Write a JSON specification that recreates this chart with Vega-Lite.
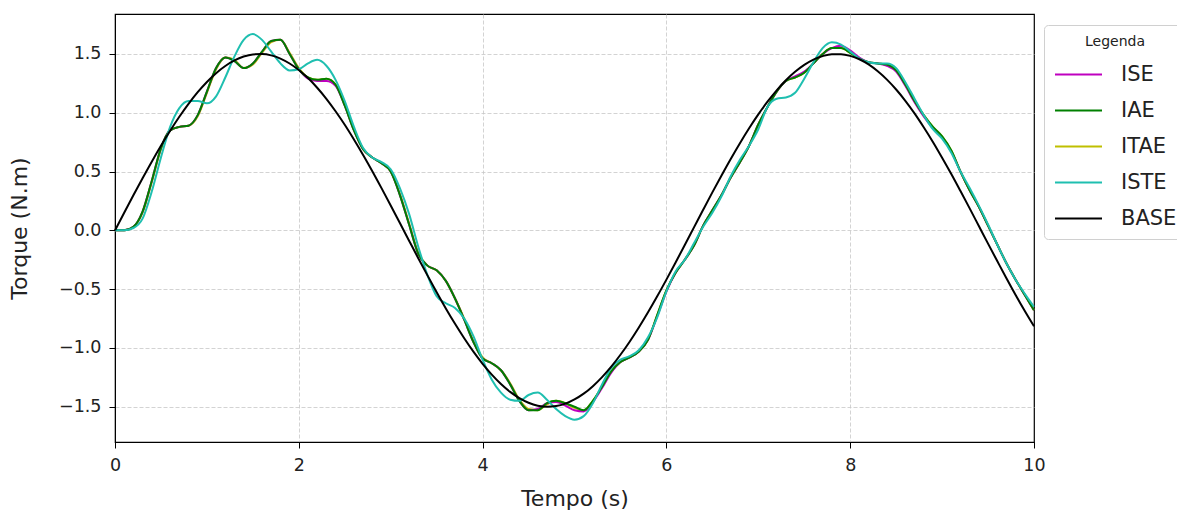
{
  "$schema": "https://vega.github.io/schema/vega-lite/v6.json",
  "width": 919,
  "height": 428,
  "autosize": {"type": "none"},
  "padding": {"left": 115, "top": 14, "right": 143, "bottom": 68},
  "background": "white",
  "config": {
    "font": "DejaVu Sans",
    "view": {"stroke": "black", "strokeWidth": 1.2},
    "axis": {
      "domainColor": "black",
      "tickColor": "black",
      "labelColor": "#222222",
      "titleColor": "#222222",
      "labelFont": "DejaVu Sans",
      "titleFont": "DejaVu Sans",
      "labelFontSize": 17.5,
      "titleFontSize": 22,
      "titleFontWeight": "normal",
      "tickSize": 6,
      "gridColor": "#c8c8c8",
      "gridDash": [4, 2],
      "gridWidth": 0.8,
      "labelFlush": false
    }
  },
  "data": {
    "values": [
      {"t":0.0,"ISE":0.0,"IAE":0.0,"ITAE":0.0,"ISTE":0.0,"BASE":0.0},
      {"t":0.1,"ISE":0.0,"IAE":0.0,"ITAE":0.0,"ISTE":0.0,"BASE":0.150},
      {"t":0.2,"ISE":0.03,"IAE":0.03,"ITAE":0.03,"ISTE":0.02,"BASE":0.298},
      {"t":0.3,"ISE":0.16,"IAE":0.16,"ITAE":0.15,"ISTE":0.10,"BASE":0.443},
      {"t":0.4,"ISE":0.42,"IAE":0.42,"ITAE":0.41,"ISTE":0.33,"BASE":0.584},
      {"t":0.5,"ISE":0.70,"IAE":0.70,"ITAE":0.69,"ISTE":0.62,"BASE":0.719},
      {"t":0.6,"ISE":0.85,"IAE":0.85,"ITAE":0.85,"ISTE":0.88,"BASE":0.847},
      {"t":0.7,"ISE":0.88,"IAE":0.88,"ITAE":0.88,"ISTE":1.04,"BASE":0.966},
      {"t":0.8,"ISE":0.89,"IAE":0.89,"ITAE":0.89,"ISTE":1.10,"BASE":1.076},
      {"t":0.9,"ISE":0.98,"IAE":0.98,"ITAE":0.97,"ISTE":1.10,"BASE":1.175},
      {"t":1.0,"ISE":1.18,"IAE":1.18,"ITAE":1.17,"ISTE":1.08,"BASE":1.262},
      {"t":1.1,"ISE":1.38,"IAE":1.38,"ITAE":1.37,"ISTE":1.14,"BASE":1.337},
      {"t":1.2,"ISE":1.47,"IAE":1.47,"ITAE":1.47,"ISTE":1.30,"BASE":1.398},
      {"t":1.3,"ISE":1.44,"IAE":1.44,"ITAE":1.45,"ISTE":1.48,"BASE":1.445},
      {"t":1.4,"ISE":1.38,"IAE":1.38,"ITAE":1.38,"ISTE":1.62,"BASE":1.478},
      {"t":1.5,"ISE":1.42,"IAE":1.42,"ITAE":1.41,"ISTE":1.67,"BASE":1.496},
      {"t":1.6,"ISE":1.52,"IAE":1.52,"ITAE":1.51,"ISTE":1.62,"BASE":1.499},
      {"t":1.7,"ISE":1.61,"IAE":1.61,"ITAE":1.60,"ISTE":1.52,"BASE":1.488},
      {"t":1.8,"ISE":1.62,"IAE":1.62,"ITAE":1.62,"ISTE":1.42,"BASE":1.461},
      {"t":1.9,"ISE":1.50,"IAE":1.50,"ITAE":1.51,"ISTE":1.36,"BASE":1.419},
      {"t":2.0,"ISE":1.37,"IAE":1.37,"ITAE":1.38,"ISTE":1.37,"BASE":1.364},
      {"t":2.1,"ISE":1.29,"IAE":1.30,"ITAE":1.30,"ISTE":1.42,"BASE":1.295},
      {"t":2.2,"ISE":1.27,"IAE":1.28,"ITAE":1.28,"ISTE":1.45,"BASE":1.213},
      {"t":2.3,"ISE":1.27,"IAE":1.29,"ITAE":1.29,"ISTE":1.40,"BASE":1.119},
      {"t":2.4,"ISE":1.23,"IAE":1.24,"ITAE":1.24,"ISTE":1.28,"BASE":1.013},
      {"t":2.5,"ISE":1.06,"IAE":1.06,"ITAE":1.07,"ISTE":1.10,"BASE":0.898},
      {"t":2.6,"ISE":0.85,"IAE":0.85,"ITAE":0.86,"ISTE":0.88,"BASE":0.773},
      {"t":2.7,"ISE":0.69,"IAE":0.69,"ITAE":0.69,"ISTE":0.70,"BASE":0.641},
      {"t":2.8,"ISE":0.62,"IAE":0.62,"ITAE":0.62,"ISTE":0.62,"BASE":0.503},
      {"t":2.9,"ISE":0.57,"IAE":0.57,"ITAE":0.57,"ISTE":0.58,"BASE":0.359},
      {"t":3.0,"ISE":0.50,"IAE":0.50,"ITAE":0.50,"ISTE":0.52,"BASE":0.212},
      {"t":3.1,"ISE":0.30,"IAE":0.30,"ITAE":0.31,"ISTE":0.36,"BASE":0.062},
      {"t":3.2,"ISE":0.05,"IAE":0.05,"ITAE":0.06,"ISTE":0.14,"BASE":-0.088},
      {"t":3.3,"ISE":-0.20,"IAE":-0.20,"ITAE":-0.19,"ISTE":-0.14,"BASE":-0.237},
      {"t":3.4,"ISE":-0.30,"IAE":-0.30,"ITAE":-0.30,"ISTE":-0.38,"BASE":-0.383},
      {"t":3.5,"ISE":-0.34,"IAE":-0.34,"ITAE":-0.34,"ISTE":-0.56,"BASE":-0.526},
      {"t":3.6,"ISE":-0.43,"IAE":-0.43,"ITAE":-0.43,"ISTE":-0.62,"BASE":-0.664},
      {"t":3.7,"ISE":-0.58,"IAE":-0.58,"ITAE":-0.58,"ISTE":-0.66,"BASE":-0.795},
      {"t":3.8,"ISE":-0.76,"IAE":-0.76,"ITAE":-0.75,"ISTE":-0.75,"BASE":-0.918},
      {"t":3.9,"ISE":-0.95,"IAE":-0.95,"ITAE":-0.94,"ISTE":-0.90,"BASE":-1.032},
      {"t":4.0,"ISE":-1.09,"IAE":-1.09,"ITAE":-1.08,"ISTE":-1.10,"BASE":-1.135},
      {"t":4.1,"ISE":-1.13,"IAE":-1.13,"ITAE":-1.13,"ISTE":-1.27,"BASE":-1.227},
      {"t":4.2,"ISE":-1.19,"IAE":-1.19,"ITAE":-1.19,"ISTE":-1.38,"BASE":-1.307},
      {"t":4.3,"ISE":-1.31,"IAE":-1.31,"ITAE":-1.30,"ISTE":-1.44,"BASE":-1.374},
      {"t":4.4,"ISE":-1.45,"IAE":-1.45,"ITAE":-1.44,"ISTE":-1.45,"BASE":-1.427},
      {"t":4.5,"ISE":-1.53,"IAE":-1.53,"ITAE":-1.52,"ISTE":-1.40,"BASE":-1.466},
      {"t":4.6,"ISE":-1.52,"IAE":-1.53,"ITAE":-1.53,"ISTE":-1.38,"BASE":-1.491},
      {"t":4.7,"ISE":-1.47,"IAE":-1.47,"ITAE":-1.48,"ISTE":-1.44,"BASE":-1.500},
      {"t":4.8,"ISE":-1.46,"IAE":-1.45,"ITAE":-1.45,"ISTE":-1.52,"BASE":-1.494},
      {"t":4.9,"ISE":-1.49,"IAE":-1.47,"ITAE":-1.47,"ISTE":-1.58,"BASE":-1.474},
      {"t":5.0,"ISE":-1.53,"IAE":-1.50,"ITAE":-1.51,"ISTE":-1.61,"BASE":-1.438},
      {"t":5.1,"ISE":-1.54,"IAE":-1.53,"ITAE":-1.53,"ISTE":-1.58,"BASE":-1.389},
      {"t":5.2,"ISE":-1.46,"IAE":-1.45,"ITAE":-1.45,"ISTE":-1.47,"BASE":-1.325},
      {"t":5.3,"ISE":-1.34,"IAE":-1.33,"ITAE":-1.33,"ISTE":-1.31,"BASE":-1.248},
      {"t":5.4,"ISE":-1.21,"IAE":-1.20,"ITAE":-1.20,"ISTE":-1.17,"BASE":-1.159},
      {"t":5.5,"ISE":-1.12,"IAE":-1.12,"ITAE":-1.12,"ISTE":-1.10,"BASE":-1.058},
      {"t":5.6,"ISE":-1.08,"IAE":-1.08,"ITAE":-1.08,"ISTE":-1.07,"BASE":-0.947},
      {"t":5.7,"ISE":-1.03,"IAE":-1.03,"ITAE":-1.03,"ISTE":-1.02,"BASE":-0.826},
      {"t":5.8,"ISE":-0.93,"IAE":-0.93,"ITAE":-0.93,"ISTE":-0.91,"BASE":-0.697},
      {"t":5.9,"ISE":-0.73,"IAE":-0.72,"ITAE":-0.72,"ISTE":-0.74,"BASE":-0.561},
      {"t":6.0,"ISE":-0.52,"IAE":-0.51,"ITAE":-0.51,"ISTE":-0.52,"BASE":-0.419},
      {"t":6.1,"ISE":-0.36,"IAE":-0.36,"ITAE":-0.36,"ISTE":-0.35,"BASE":-0.273},
      {"t":6.2,"ISE":-0.25,"IAE":-0.25,"ITAE":-0.25,"ISTE":-0.25,"BASE":-0.125},
      {"t":6.3,"ISE":-0.13,"IAE":-0.13,"ITAE":-0.13,"ISTE":-0.11,"BASE":0.025},
      {"t":6.4,"ISE":0.04,"IAE":0.04,"ITAE":0.04,"ISTE":0.03,"BASE":0.175},
      {"t":6.5,"ISE":0.17,"IAE":0.17,"ITAE":0.17,"ISTE":0.15,"BASE":0.323},
      {"t":6.6,"ISE":0.30,"IAE":0.30,"ITAE":0.30,"ISTE":0.29,"BASE":0.467},
      {"t":6.7,"ISE":0.45,"IAE":0.45,"ITAE":0.45,"ISTE":0.46,"BASE":0.607},
      {"t":6.8,"ISE":0.58,"IAE":0.58,"ITAE":0.58,"ISTE":0.60,"BASE":0.741},
      {"t":6.9,"ISE":0.72,"IAE":0.72,"ITAE":0.72,"ISTE":0.72,"BASE":0.868},
      {"t":7.0,"ISE":0.90,"IAE":0.90,"ITAE":0.90,"ISTE":0.86,"BASE":0.986},
      {"t":7.1,"ISE":1.05,"IAE":1.05,"ITAE":1.05,"ISTE":1.05,"BASE":1.094},
      {"t":7.2,"ISE":1.18,"IAE":1.18,"ITAE":1.18,"ISTE":1.12,"BASE":1.191},
      {"t":7.3,"ISE":1.27,"IAE":1.27,"ITAE":1.27,"ISTE":1.13,"BASE":1.276},
      {"t":7.4,"ISE":1.31,"IAE":1.30,"ITAE":1.30,"ISTE":1.17,"BASE":1.348},
      {"t":7.5,"ISE":1.35,"IAE":1.34,"ITAE":1.34,"ISTE":1.29,"BASE":1.407},
      {"t":7.6,"ISE":1.42,"IAE":1.42,"ITAE":1.42,"ISTE":1.43,"BASE":1.452},
      {"t":7.7,"ISE":1.50,"IAE":1.50,"ITAE":1.50,"ISTE":1.55,"BASE":1.482},
      {"t":7.8,"ISE":1.55,"IAE":1.55,"ITAE":1.55,"ISTE":1.60,"BASE":1.498},
      {"t":7.9,"ISE":1.57,"IAE":1.55,"ITAE":1.55,"ISTE":1.58,"BASE":1.498},
      {"t":8.0,"ISE":1.53,"IAE":1.51,"ITAE":1.51,"ISTE":1.52,"BASE":1.484},
      {"t":8.1,"ISE":1.47,"IAE":1.46,"ITAE":1.46,"ISTE":1.46,"BASE":1.455},
      {"t":8.2,"ISE":1.43,"IAE":1.43,"ITAE":1.43,"ISTE":1.43,"BASE":1.411},
      {"t":8.3,"ISE":1.42,"IAE":1.42,"ITAE":1.42,"ISTE":1.42,"BASE":1.353},
      {"t":8.4,"ISE":1.40,"IAE":1.41,"ITAE":1.41,"ISTE":1.42,"BASE":1.282},
      {"t":8.5,"ISE":1.35,"IAE":1.36,"ITAE":1.36,"ISTE":1.38,"BASE":1.198},
      {"t":8.6,"ISE":1.23,"IAE":1.24,"ITAE":1.24,"ISTE":1.26,"BASE":1.102},
      {"t":8.7,"ISE":1.09,"IAE":1.10,"ITAE":1.10,"ISTE":1.12,"BASE":0.995},
      {"t":8.8,"ISE":0.97,"IAE":0.98,"ITAE":0.98,"ISTE":0.98,"BASE":0.877},
      {"t":8.9,"ISE":0.87,"IAE":0.88,"ITAE":0.88,"ISTE":0.86,"BASE":0.752},
      {"t":9.0,"ISE":0.79,"IAE":0.80,"ITAE":0.80,"ISTE":0.78,"BASE":0.618},
      {"t":9.1,"ISE":0.67,"IAE":0.68,"ITAE":0.68,"ISTE":0.66,"BASE":0.479},
      {"t":9.2,"ISE":0.50,"IAE":0.50,"ITAE":0.50,"ISTE":0.50,"BASE":0.334},
      {"t":9.3,"ISE":0.34,"IAE":0.34,"ITAE":0.34,"ISTE":0.36,"BASE":0.187},
      {"t":9.4,"ISE":0.20,"IAE":0.20,"ITAE":0.20,"ISTE":0.21,"BASE":0.037},
      {"t":9.5,"ISE":0.04,"IAE":0.04,"ITAE":0.04,"ISTE":0.05,"BASE":-0.113},
      {"t":9.6,"ISE":-0.12,"IAE":-0.12,"ITAE":-0.12,"ISTE":-0.12,"BASE":-0.261},
      {"t":9.7,"ISE":-0.28,"IAE":-0.28,"ITAE":-0.28,"ISTE":-0.28,"BASE":-0.408},
      {"t":9.8,"ISE":-0.42,"IAE":-0.42,"ITAE":-0.42,"ISTE":-0.42,"BASE":-0.550},
      {"t":9.9,"ISE":-0.55,"IAE":-0.55,"ITAE":-0.55,"ISTE":-0.54,"BASE":-0.686},
      {"t":10.0,"ISE":-0.68,"IAE":-0.68,"ITAE":-0.68,"ISTE":-0.65,"BASE":-0.816}
    ]
  },
  "transform": [
    {"fold": ["ISE", "IAE", "ITAE", "ISTE", "BASE"], "as": ["serie", "v"]}
  ],
  "encoding": {
    "x": {
      "field": "t", "type": "quantitative",
      "scale": {"domain": [0, 10], "nice": false, "zero": false},
      "axis": {
        "values": [0, 2, 4, 6, 8, 10], "format": "d", "title": "Tempo (s)", "titlePadding": 15, "labelPadding": 8,
        "gridOpacity": {"condition": {"test": "datum.value == 0 || datum.value == 10", "value": 0}, "value": 1}
      }
    },
    "y": {
      "field": "v", "type": "quantitative",
      "scale": {"domain": [-1.8, 1.84], "nice": false, "zero": false},
      "axis": {"values": [-1.5, -1.0, -0.5, 0.0, 0.5, 1.0, 1.5], "labelExpr": "replace(format(datum.value, '.1f'), '-', '\u2212')", "title": "Torque (N.m)", "titlePadding": 27, "labelPadding": 8}
    },
    "color": {
      "field": "serie", "type": "nominal",
      "scale": {"domain": ["ISE", "IAE", "ITAE", "ISTE", "BASE"], "range": ["#bf00bf", "#008000", "#bfbf00", "#1fbfb0", "#000000"]},
      "legend": {
        "title": "Legenda",
        "orient": "none",
        "legendX": 929,
        "legendY": 11,
        "titleFontSize": 14,
        "titleFontWeight": "normal",
        "titleAnchor": "middle",
        "titleColor": "#222222",
        "titlePadding": 1,
        "labelFontSize": 21,
        "labelColor": "#222222",
        "labelOffset": 18,
        "symbolType": "stroke",
        "symbolSize": 2209,
        "symbolStrokeWidth": 2,
        "rowPadding": 1,
        "padding": 10,
        "strokeColor": "#d0d0d0",
        "fillColor": "white",
        "cornerRadius": 4
      }
    }
  },
  "layer": [
    {"transform": [{"filter": "datum.serie == 'ITAE'"}], "mark": {"type": "line", "interpolate": "monotone", "strokeWidth": 2}},
    {"transform": [{"filter": "datum.serie == 'ISE'"}], "mark": {"type": "line", "interpolate": "monotone", "strokeWidth": 2}},
    {"transform": [{"filter": "datum.serie == 'IAE'"}], "mark": {"type": "line", "interpolate": "monotone", "strokeWidth": 2}},
    {"transform": [{"filter": "datum.serie == 'ISTE'"}], "mark": {"type": "line", "interpolate": "monotone", "strokeWidth": 2}},
    {"transform": [{"filter": "datum.serie == 'BASE'"}], "mark": {"type": "line", "interpolate": "monotone", "strokeWidth": 2}}
  ]
}
